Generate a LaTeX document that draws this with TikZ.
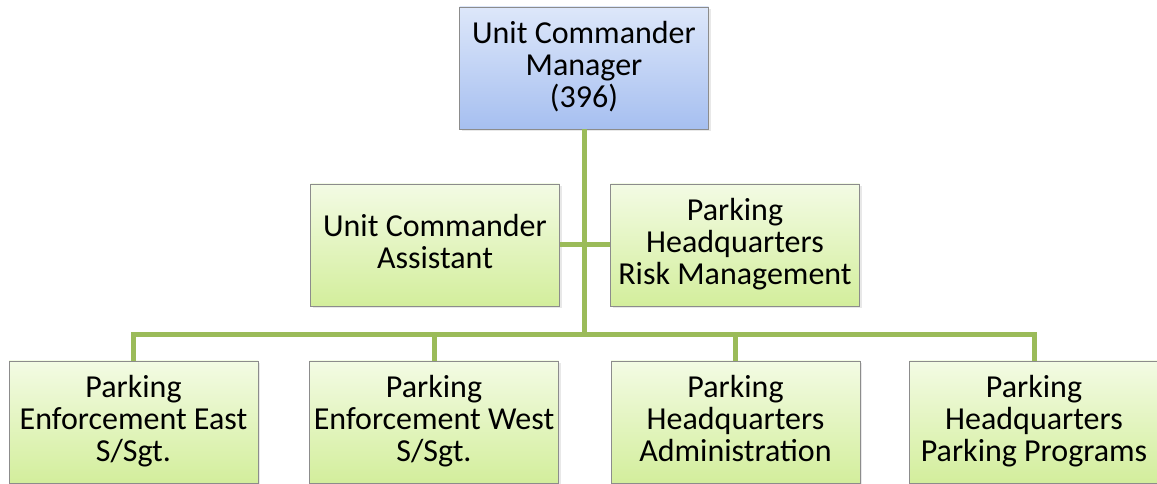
\documentclass[tikz,border=0pt]{standalone}
\usepackage{fontspec}
\setmainfont{Carlito}
\usepackage{tikz}
\usetikzlibrary{positioning,shadows}
\definecolor{greentop}{HTML}{F3FBE4}
\definecolor{greenbot}{HTML}{D3EE9C}
\definecolor{bluetop}{HTML}{DDE7FA}
\definecolor{bluebot}{HTML}{A6BFF0}
\definecolor{linkgreen}{HTML}{9BBB59}
\newcommand{\topstrut}{\rule{0pt}{34.6pt}}
\newcommand{\botstrut}{\rule[-8pt]{0pt}{8pt}}

\begin{document}
\begin{tikzpicture}[
  x=1pt, y=1pt,
  font=\fontsize{32}{32}\selectfont,
  box/.style={draw=black!45, line width=0.8pt, align=center, inner sep=0pt,
    minimum width=249pt, minimum height=122pt,
    execute at begin node=\topstrut, execute at end node=\botstrut,
    drop shadow={opacity=0.18, shadow xshift=2pt, shadow yshift=-2pt}},
  unit/.style={box, top color=greentop, bottom color=greenbot},
  head/.style={box, top color=bluetop, bottom color=bluebot},
  link/.style={draw=linkgreen, line width=5pt}]
\useasboundingbox (0,0) rectangle (1157,484);
% manager
\node[head] (mgr) at (584,416) {Unit Commander\\Manager\\(396)};
% staff level
\node[unit] (asst) at (435,239) {Unit Commander\\Assistant};
\node[unit] (risk) at (735,239) {Parking\\Headquarters\\Risk Management};
% sections
\node[unit] (east) at (133.5,62) {Parking\\Enforcement East\\S/Sgt.};
\node[unit] (west) at (434,62) {Parking\\Enforcement West\\S/Sgt.};
\node[unit] (admin) at (735.5,62) {Parking\\Headquarters\\Administration};
\node[unit] (prog) at (1034,62) {Parking\\Headquarters\\Parking Programs};
% connectors
\coordinate (bus) at (mgr.south |- 0,149);
\draw[link] (mgr.south) -- (bus);
\draw[link] (asst.east) -- (risk.west);
\foreach \n in {east,west,admin,prog}
  \draw[link] (\n.north) |- (bus);
\end{tikzpicture}
\end{document}
